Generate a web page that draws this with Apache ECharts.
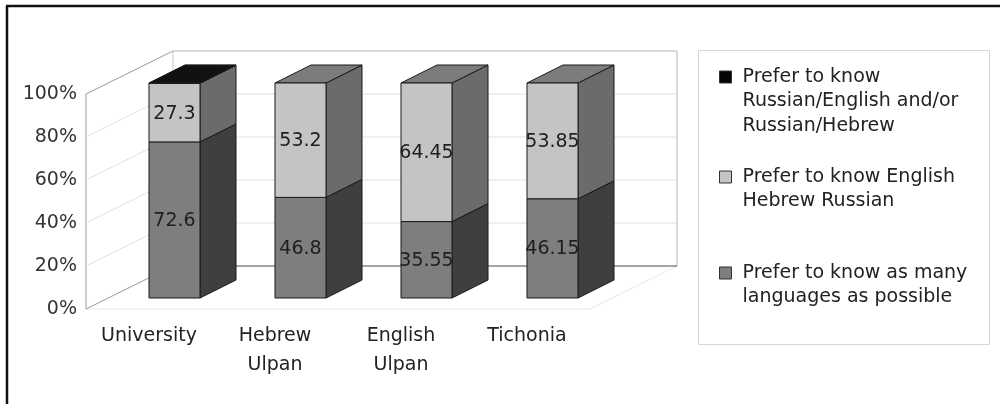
<!DOCTYPE html>
<html><head><meta charset="utf-8">
<script src="https://cdn.jsdelivr.net/npm/echarts@6/dist/echarts.min.js"></script>
<style>html,body{margin:0;padding:0;background:#fff}#c{width:1000px;height:404px}</style>
</head><body><div id="c"></div>
<script>
// ---- data ----
const categories = ['University', 'Hebrew\nUlpan', 'English\nUlpan', 'Tichonia'];
const seriesNames = [
  'Prefer to know as many\nlanguages as possible',
  'Prefer to know English\nHebrew Russian',
  'Prefer to know\nRussian/English and/or\nRussian/Hebrew'
];
const manyLanguages = [72.6, 46.8, 35.55, 46.15];
const englishHebrewRussian = [27.3, 53.2, 64.45, 53.85];
const russianPair = [0.1, 0, 0, 0];
const yTicks = [0, 20, 40, 60, 80, 100];

// ---- styling ----
const FONT = 'DejaVu Sans';
const WALL_DEPTH = [87, -43];
const BAR_FRONT = [25.5, -11];
const BAR_DEPTH = [36, -18];
const faces = [
  {front: '#7e7e7e', side: '#3f3f3f', top: '#5c5c5c'},
  {front: '#c4c4c4', side: '#6b6b6b', top: '#7c7c7c'},
  {front: '#050505', side: '#000000', top: '#111111'}
];
const valueSets = [manyLanguages, englishHebrewRussian, russianPair];

function stackData(idx) {
  return categories.map((c, i) => {
    let base = 0;
    for (let k = 0; k < idx; k++) base += valueSets[k][i];
    return [i, valueSets[idx][i], base];
  });
}

function barRender(sIdx) {
  const f = faces[sIdx];
  return function (params, api) {
    const ci = api.value(0), v = api.value(1), b = api.value(2);
    if (!v) return null;
    const band = api.size([1, 0])[0];
    const w = band * 0.405;
    const p0 = api.coord([ci, b]), p1 = api.coord([ci, b + v]);
    const x0 = p0[0] - w / 2 + BAR_FRONT[0], x1 = x0 + w;
    const yb = p0[1] + BAR_FRONT[1], yt = p1[1] + BAR_FRONT[1];
    const dx = BAR_DEPTH[0], dy = BAR_DEPTH[1];
    const stroke = '#1a1a1a';
    const children = [
      {type: 'polygon', shape: {points: [[x1, yb], [x1 + dx, yb + dy], [x1 + dx, yt + dy], [x1, yt]]},
       style: {fill: f.side, stroke: stroke, lineWidth: 1}},
      {type: 'polygon', shape: {points: [[x0, yt], [x1, yt], [x1 + dx, yt + dy], [x0 + dx, yt + dy]]},
       style: {fill: f.top, stroke: stroke, lineWidth: 1}},
      {type: 'rect', shape: {x: x0, y: yt, width: w, height: yb - yt},
       style: {fill: f.front, stroke: stroke, lineWidth: 1}}
    ];
    if (v >= 1) {
      children.push({type: 'text', z2: 10, style: {
        text: String(v), x: (x0 + x1) / 2, y: (yt + yb) / 2 + 1,
        align: 'center', verticalAlign: 'middle',
        font: '19px "' + FONT + '"', fill: '#1e1e1e'}});
    }
    return {type: 'group', children: children};
  };
}

function wallRender(params, api) {
  const cs = params.coordSys;
  const L = cs.x, R = cs.x + cs.width;
  const T = cs.y, B = cs.y + cs.height;
  const dx = WALL_DEPTH[0], dy = WALL_DEPTH[1];
  const t = api.value(1);
  const y = api.coord([0, t])[1];
  const children = [];
  const edge = '#9a9a9a';
  const grid = '#e0e0e0';
  if (t === 0) {
    children.push(
      {type: 'line', shape: {x1: L, y1: B, x2: R, y2: B}, style: {stroke: '#e8e8e8', lineWidth: 1}},
      {type: 'line', shape: {x1: R, y1: B, x2: R + dx, y2: B + dy}, style: {stroke: '#e8e8e8', lineWidth: 1}},
      {type: 'line', shape: {x1: L, y1: T, x2: L, y2: B}, style: {stroke: edge, lineWidth: 1}},
      {type: 'line', shape: {x1: L + dx, y1: T + dy, x2: L + dx, y2: B + dy}, style: {stroke: '#c8c8c8', lineWidth: 1}},
      {type: 'line', shape: {x1: R + dx, y1: T + dy, x2: R + dx, y2: B + dy}, style: {stroke: '#b4b4b4', lineWidth: 1}},
      {type: 'line', shape: {x1: L, y1: y, x2: L + dx, y2: y + dy}, style: {stroke: edge, lineWidth: 1}},
      {type: 'line', shape: {x1: L + dx, y1: y + dy, x2: R + dx, y2: y + dy}, style: {stroke: '#4a4a4a', lineWidth: 1.2}}
    );
  } else {
    const top = t === yTicks[yTicks.length - 1];
    children.push(
      {type: 'line', shape: {x1: L, y1: y, x2: L + dx, y2: y + dy}, style: {stroke: top ? edge : grid, lineWidth: 1}},
      {type: 'line', shape: {x1: L + dx, y1: y + dy, x2: R + dx, y2: y + dy}, style: {stroke: top ? '#b4b4b4' : grid, lineWidth: 1}}
    );
  }
  return {type: 'group', children: children};
}

const chart = echarts.init(document.getElementById('c'), null, {renderer: 'canvas'});

function legendFor(idx, firstLineY) {
  const name = seriesNames[idx];
  const n = name.split('\n').length;
  const LH = 24.5;
  return {
    data: [name], orient: 'vertical', left: 719, padding: 0,
    top: firstLineY - (2 * n - 1) * LH / 2,
    icon: 'rect', itemWidth: 12, itemHeight: 12, itemGap: 0,
    selectedMode: false,
    itemStyle: {borderColor: '#333', borderWidth: 1},
    formatter: function (nm) {
      return '\n'.repeat(n - 1) + nm.split('\n').map(s => ' ' + s).join('\n');
    },
    textStyle: {fontFamily: FONT, fontSize: 19, color: '#222', lineHeight: LH}
  };
}

const option = {
  animation: false,
  backgroundColor: '#fff',
  grid: {left: 86, right: 410, top: 94, bottom: 95, containLabel: false},
  xAxis: {
    type: 'category', data: categories,
    axisLine: {show: false}, axisTick: {show: false}, splitLine: {show: false},
    axisLabel: {fontFamily: FONT, fontSize: 19, color: '#222', lineHeight: 29, margin: 13, interval: 0}
  },
  yAxis: {
    type: 'value', min: 0, max: 100, interval: 20,
    axisLine: {show: false}, axisTick: {show: false}, splitLine: {show: false},
    axisLabel: {fontFamily: FONT, fontSize: 19, color: '#333', margin: 9, formatter: '{value}%'}
  },
  legend: [legendFor(2, 77), legendFor(1, 177), legendFor(0, 273)],
  graphic: [
    {type: 'rect', shape: {x: 698.5, y: 50.5, width: 291, height: 294},
     style: {fill: 'none', stroke: '#d6d6d6', lineWidth: 1}, z: -1},
    {type: 'line', shape: {x1: 7, y1: 6, x2: 7, y2: 404}, style: {stroke: '#111', lineWidth: 2.5}},
    {type: 'line', shape: {x1: 6, y1: 6, x2: 1000, y2: 6}, style: {stroke: '#111', lineWidth: 2.5}}
  ],
  series: [
    {type: 'custom', name: 'walls', z: 1, silent: true, renderItem: wallRender,
     data: yTicks.map(t => [0, t]), encode: {x: 0, y: 1}}
  ].concat([0, 1, 2].map(i => ({
    type: 'custom', name: seriesNames[i], z: 2, silent: true,
    itemStyle: {color: faces[i].front},
    renderItem: barRender(i), data: stackData(i), encode: {x: 0, y: 1}
  })))
};
chart.setOption(option);
</script></body></html>
